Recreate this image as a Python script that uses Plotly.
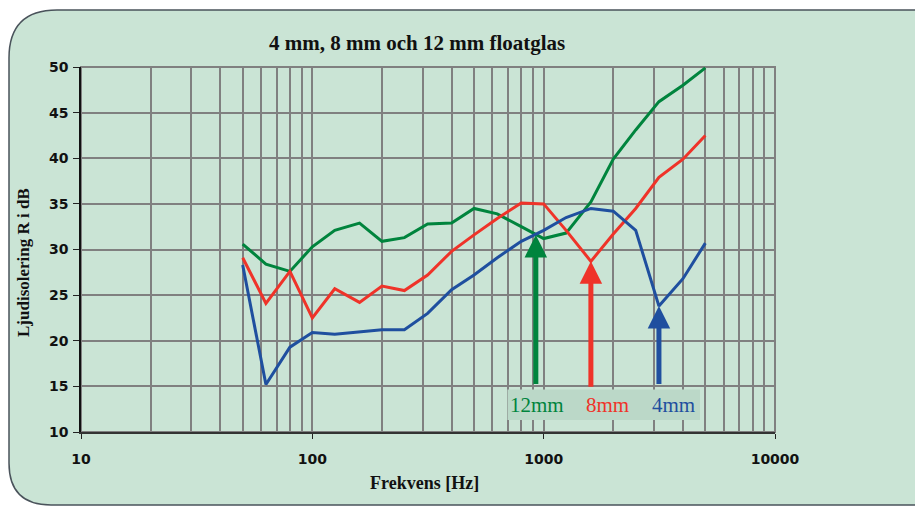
import math
import plotly.graph_objects as go

# ---------------- data ----------------
freqs = [50, 63, 80, 100, 125, 160, 200, 250, 315, 400, 500, 630, 800,
         1000, 1250, 1600, 2000, 2500, 3150, 4000, 5000]
glass_12mm = [30.6, 28.4, 27.6, 30.3, 32.1, 32.9, 30.9, 31.3, 32.8, 32.9, 34.5,
              33.9, 32.5, 31.2, 31.8, 35.2, 39.9, 43.1, 46.2, 48.0, 49.9]
glass_8mm = [29.1, 24.1, 27.6, 22.5, 25.7, 24.2, 26.0, 25.5, 27.2, 29.8, 31.6,
             33.4, 35.1, 35.0, 32.1, 28.7, 31.7, 34.5, 37.9, 39.9, 42.5]
glass_4mm = [28.3, 15.2, 19.3, 20.9, 20.7, 21.0, 21.2, 21.2, 23.0, 25.6, 27.2,
             29.1, 30.9, 32.1, 33.5, 34.5, 34.2, 32.1, 23.8, 26.8, 30.7]

series_names = ["12mm", "8mm", "4mm"]
series_colors = ["#00843d", "#ef3329", "#1f4f9f"]

# coincidence dips marked with arrows
arrow_freqs = [925, 1600, 3150]
arrow_tips = [31.6, 28.7, 23.8]
arrow_bases = [15.1, 14.8, 15.1]

x_tickvals = [10, 100, 1000, 10000]
y_tickvals = [10, 15, 20, 25, 30, 35, 40, 45, 50]

title_text = "4 mm, 8 mm och 12 mm floatglas"
x_title = "Frekvens [Hz]"
y_title = "Ljudisolering R i dB"

# ---------------- layout geometry (page pixels) ----------------
W, H = 915, 506
L, R, T, B = 81, 775, 67, 432   # plot area in page pixels


def px(x):
    return (x - L) / (R - L)


def py(y):
    return (B - y) / (B - T)


BG = "#cae4d5"
GRID = "#808080"

fig = go.Figure()
for vals, name, col in zip([glass_12mm, glass_8mm, glass_4mm], series_names, series_colors):
    fig.add_trace(go.Scatter(x=freqs, y=vals, mode="lines", name=name,
                             line=dict(color=col, width=3), hoverinfo="skip"))

# rounded background panel
r1, r2 = 48, 42
xl, yt, yb, xr = 9, 10, 505, 940
path = (f"M {px(xr)},{py(yt)} L {px(xl + r1)},{py(yt)} "
        f"Q {px(xl)},{py(yt)} {px(xl)},{py(yt + r1)} "
        f"L {px(xl)},{py(yb - r2)} "
        f"Q {px(xl)},{py(yb)} {px(xl + r2)},{py(yb)} "
        f"L {px(xr)},{py(yb)}")
shapes = [
    dict(type="path", xref="paper", yref="paper", path=path, fillcolor=BG,
         line=dict(color="#4a535b", width=1.5), layer="below"),
    dict(type="rect", xref="paper", yref="paper", x0=0, x1=1, y0=0, y1=1,
         line=dict(color=GRID, width=2), fillcolor="rgba(0,0,0,0)", layer="below"),
    dict(type="rect", xref="paper", yref="paper", x0=px(507.5), x1=px(700),
         y0=py(420), y1=py(389.5), fillcolor="#bbd8c8", line=dict(width=0),
         layer="above"),
]

annotations = []
for f, tip, base, col in zip(arrow_freqs, arrow_tips, arrow_bases, series_colors):
    annotations.append(dict(x=math.log10(f), y=tip, xref="x", yref="y",
                            ax=math.log10(f), ay=base, axref="x", ayref="y",
                            showarrow=True, arrowhead=2, arrowsize=0.9,
                            arrowwidth=5, arrowcolor=col, text=""))

label_centers = [537, 607.5, 673.5]
for name, col, cx in zip(series_names, series_colors, label_centers):
    annotations.append(dict(x=px(cx), y=py(405), xref="paper", yref="paper",
                            text=name, showarrow=False, xanchor="center", yanchor="middle",
                            font=dict(family="Liberation Serif", size=21, color=col)))

annotations.append(dict(x=px(416.5), y=py(43), xref="paper", yref="paper",
                        text=f"<b>{title_text}</b>", showarrow=False,
                        xanchor="center", yanchor="middle",
                        font=dict(family="Liberation Serif", size=21, color="#111")))
annotations.append(dict(x=px(424), y=py(483), xref="paper", yref="paper",
                        text=f"<b>{x_title}</b>", showarrow=False,
                        xanchor="center", yanchor="middle",
                        font=dict(family="Liberation Serif", size=18, color="#111")))
annotations.append(dict(x=px(23), y=py(263), xref="paper", yref="paper",
                        text=f"<b>{y_title}</b>", showarrow=False, textangle=-90,
                        xanchor="center", yanchor="middle",
                        font=dict(family="Liberation Serif", size=17, color="#111")))

tickfont = dict(family="DejaVu Sans", size=14, color="#111", weight="bold")

fig.update_layout(
    width=W, height=H,
    margin=dict(l=L, r=W - R, t=T, b=H - B, pad=0),
    paper_bgcolor="white", plot_bgcolor="rgba(0,0,0,0)",
    showlegend=False, hovermode=False,
    shapes=shapes, annotations=annotations,
    xaxis=dict(type="log", range=[1, 4], tickvals=x_tickvals,
               ticktext=[str(v) for v in x_tickvals],
               showgrid=True, gridcolor=GRID, gridwidth=2,
               minor=dict(dtick="D1", showgrid=True, gridcolor=GRID, gridwidth=2, ticks=""),
               ticks="outside", ticklen=5, tickwidth=1, tickcolor="#222",
               showline=True, linecolor="#333", linewidth=1.5,
               tickfont=tickfont, ticklabelstandoff=8, zeroline=False),
    yaxis=dict(range=[10, 50], tickvals=y_tickvals,
               showgrid=True, gridcolor=GRID, gridwidth=2,
               ticks="outside", ticklen=6, tickwidth=1, tickcolor="#222",
               showline=True, linecolor="#111", linewidth=1.5,
               tickfont=tickfont, ticklabelstandoff=2, zeroline=False),
)

fig.write_html("out.html", config={"displayModeBar": False},
               post_script="document.body.style.margin='0';document.body.style.overflow='hidden';")
